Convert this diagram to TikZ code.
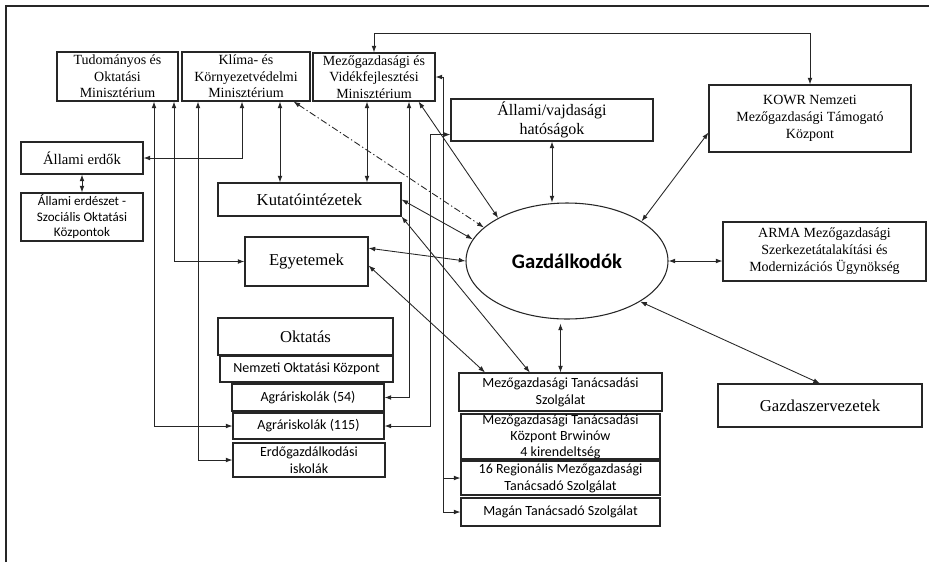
\documentclass[tikz,border=0pt]{standalone}
\usepackage{fontspec}
\setmainfont{Liberation Serif}
\newfontfamily\calibri{Carlito}
\usetikzlibrary{arrows.meta,shapes.geometric}

\tikzset{
  box/.style={draw=black!85,line width=0.8pt,align=center,inner sep=1pt},
  rm/.style={font=\fontsize{10.5}{12.5}\selectfont},
  big/.style={font=\fontsize{12.5}{14}\selectfont},
  sf/.style={font=\calibri\fontsize{10.5}{12.75}\selectfont},
  link/.style={<->,line width=0.65pt,black!85},
}

\begin{document}
\begin{tikzpicture}[x=0.75pt,y=-0.75pt,>={Latex[length=5pt,width=3.6pt]}]
      \useasboundingbox (0,0) rectangle (929,562);
      \draw[line width=0.8pt,black!85] (6,562) -- (6,6) -- (929,6);
      % miniszteriumok
      \node[box,rm,minimum width=90.75pt,minimum height=36.75pt] (tom) at (117.5,76.5) {Tudományos és\\Oktatási\\Minisztérium};
      \node[box,rm,minimum width=96pt,minimum height=36.75pt] (klima) at (246,76.5) {Klíma- és\\Környezetvédelmi\\Minisztérium};
      \node[box,rm,minimum width=91.5pt,minimum height=36pt] (agmin) at (374,77) {Mezőgazdasági és\\Vidékfejlesztési\\Minisztérium};
      \node[box,rm,font=\fontsize{11}{13}\selectfont,minimum width=91.5pt,minimum height=24pt] (erdok) at (82,158) {Állami erdők};
      \node[box,font=\calibri\fontsize{9.8}{11.6}\selectfont,minimum width=91.5pt,minimum height=36pt] (erdeszet) at (82,217) {Állami erdészet -\\Szociális Oktatási\\Központok};
      \node[box,big,minimum width=137.25pt,minimum height=24.75pt] (kutato) at (309.5,199.5) {Kutatóintézetek};
      \node[box,big,minimum width=92.25pt,minimum height=36.75pt] (egyetem) at (306.5,261.5) {Egyetemek};
      % oktatas
      \node[box,big,minimum width=131.25pt,minimum height=27.75pt] (oktatas) at (305.5,336.5) {Oktatás};
      \node[box,sf,minimum width=129.75pt,minimum height=19.5pt] (nok) at (306.5,369) {Nemzeti Oktatási Központ};
      \node[box,sf,minimum width=114pt,minimum height=20.25pt] (agr54) at (308,397.5) {Agráriskolák (54)};
      \node[box,sf,minimum width=113.25pt,minimum height=19.5pt] (agr115) at (308.5,426) {Agráriskolák (115)};
      \node[box,sf,minimum width=114pt,minimum height=25.5pt,inner ysep=0pt] (erdisk) at (309,460) {Erdőgazdálkodási\\iskolák};
      % jobb oldal
      \node[box,font=\fontsize{12}{14}\selectfont,minimum width=151.5pt,minimum height=31.5pt] (hatosag) at (552,120) {Állami/vajdasági\\hatóságok};
      \node[box,font=\fontsize{10.5}{12.75}\selectfont,minimum width=151.5pt,minimum height=50.25pt] (kowr) at (810,118.5) {KOWR Nemzeti\\Mezőgazdasági Támogató\\Központ};
      \node[ellipse,draw=black!85,line width=0.8pt,inner sep=0pt,minimum width=151.5pt,minimum height=87pt,font=\calibri\bfseries\fontsize{15.5}{18}\selectfont] (gazd) at (567,261) {Gazdálkodók};
      \node[box,font=\fontsize{10.5}{12.75}\selectfont,minimum width=152.25pt,minimum height=44.25pt] (arma) at (824.5,251.5) {ARMA Mezőgazdasági\\Szerkezetátalakítási és\\Modernizációs Ügynökség};
      \node[box,font=\fontsize{12.5}{14}\selectfont,minimum width=153pt,minimum height=32.25pt] (gszerv) at (820,405.5) {Gazdaszervezetek};
      % tanacsadas
      \node[box,sf,minimum width=152.25pt,minimum height=28.5pt,inner ysep=0pt] (mtsz) at (560.5,392) {Mezőgazdasági Tanácsadási\\Szolgálat};
      \node[box,font=\calibri\fontsize{10.5}{12}\selectfont,minimum width=149.25pt,minimum height=33.75pt,inner ysep=0pt] (brwinow) at (560.5,436.5) {Mezőgazdasági Tanácsadási\\Központ Brwinów\\4 kirendeltség};
      \node[box,sf,minimum width=149.25pt,minimum height=25.5pt,inner ysep=0pt] (regio) at (560.5,478) {16 Regionális Mezőgazdasági\\Tanácsadó Szolgálat};
      \node[box,sf,minimum width=149.25pt,minimum height=21pt] (magan) at (560.5,512) {Magán Tanácsadó Szolgálat};
      %
      \coordinate (t1) at (154,0);
      \coordinate (t2) at (174,0);
      \coordinate (t3) at (198,0);
      \coordinate (t4) at (242,0);
      \coordinate (t5) at (280,0);
      \coordinate (t6) at (367,0);
      \coordinate (t7) at (409,0);
      \coordinate (t8) at (430,0);
      \coordinate (t9) at (443,0);
      \coordinate (hin) at ([yshift=5.25pt]hatosag.south west);
      %
      \draw[link] (agmin.north) -- ++(0,-19) -| (kowr.north);
      \draw[link] (tom.south -| t1) |- (agr115.west);
      \draw[link] (tom.south -| t2) |- (egyetem.west);
      \draw[link] (klima.south -| t3) |- (erdisk.west);
      \draw[link] (klima.south -| t4) |- (erdok.east);
      \draw[link] (klima.south -| t5) -- (kutato.north -| t5);
      \draw[link] (erdok) -- (erdeszet);
      \draw[link] (agmin.south -| t6) -- (kutato.north -| t6);
      \draw[link] (agmin.south -| t7) |- (agr54.east);
      \draw[link] (agmin.east) -| (t9 |- magan.west) -- (magan.west);
      \draw[->,line width=0.65pt,black!85] (t9 |- regio.west) -- (regio.west);
      \draw[link] (agr115.east) -| (t8 |- hin) -- (hin);
      %
      \draw[link] ([xshift=-12.75pt]agmin.south east) -- (gazd.148);
      \draw[link,dash pattern=on 5pt off 2pt on 1pt off 2pt] ([xshift=-12.75pt]klima.south east) -- (gazd.158);
      \draw[link] (kutato.east) -- (gazd.167);
      \draw[link] (kutato.south east) -- ([xshift=-23pt]mtsz.north);
      \draw[link] ([yshift=10pt]egyetem.east) -- (gazd.180);
      \draw[link] ([yshift=-3pt]egyetem.east) -- ([xshift=-56.6pt]mtsz.north);
      \draw[link] (hatosag.south) -- (hatosag.south |- gazd.north);
      \draw[link] ([yshift=15pt]kowr.south west) -- (gazd.28);
      \draw[link] (gazd.east) -- (gazd.east -| arma.west);
      \draw[link] (gazd.-29) -- (gszerv.north);
      \draw[link,shorten <=3pt] (gazd.south -| mtsz.north) -- (mtsz.north);
    \end{tikzpicture}
\end{document}
